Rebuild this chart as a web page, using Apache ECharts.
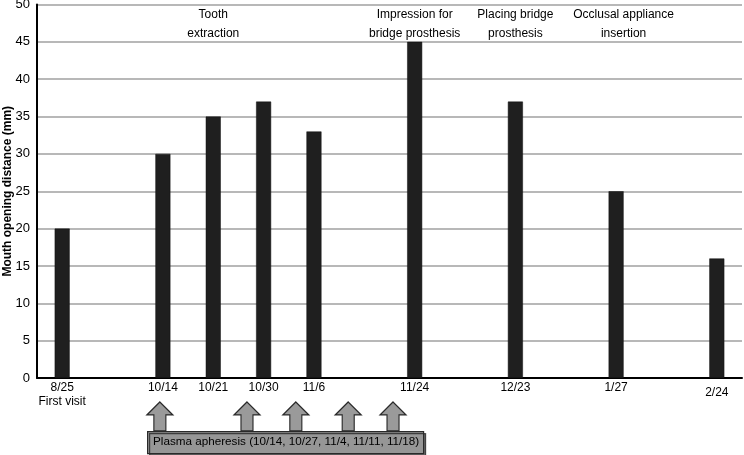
<!DOCTYPE html>
<html>
<head>
<meta charset="utf-8">
<script src="https://cdn.jsdelivr.net/npm/echarts@6/dist/echarts.min.js"></script>
<style>
  html, body { margin: 0; padding: 0; background: #fff; }
  #chart { width: 744px; height: 455px; }
</style>
</head>
<body>
<div id="chart"></div>
<script>
// visit dates (empty slots keep the spacing of the original figure)
const dates = ['8/25\nFirst visit', '', '10/14', '10/21', '10/30', '11/6', '', '11/24', '', '12/23', '', '1/27', '', '2/24']
// mouth opening distance, mm
const opening = [20, null, 30, 35, 37, 33, null, 45, null, 37, null, 25, null, 16]
// treatment notes shown along the top
const events = ['', '', '', 'Tooth\nextraction', '', '', '', 'Impression for\nbridge prosthesis', '', 'Placing bridge\nprosthesis', '', 'Occlusal appliance\ninsertion', '', '']
// plasma apheresis days, as positions between the visit slots
const apheresisDays = ['10/14', '10/27', '11/4', '11/11', '11/18']
const apheresisPos = [1.94, 3.67, 4.64, 5.68, 6.57]

const font = 'Liberation Sans, Arial, sans-serif'
const arrow = 'path://M13 0 L26 13 L19 13 L19 29 L7 29 L7 13 L0 13 Z'

// the last date label and the last note sit a little off centre in the original
const dateItems = dates.map((d, i) => i === dates.length - 1 ? { value: d, textStyle: { padding: [5, 0, 0, 0] } } : d)
const eventItems = events.map((e) => e.startsWith('Occlusal') ? { value: e, textStyle: { padding: [0, 0, 0, 15] } } : e)

const chart = echarts.init(document.getElementById('chart'))
chart.setOption({
  animation: false,
  textStyle: { fontFamily: font },
  grid: { left: 37, right: 2, top: 4.5, bottom: 77, outerBoundsMode: 'none', containLabel: false },
  xAxis: [
    {
      type: 'category',
      data: dateItems,
      axisLine: { onZero: false, lineStyle: { color: '#000', width: 2 } },
      axisTick: { show: false },
      axisLabel: { interval: 0, color: '#000', fontSize: 12, margin: 3, lineHeight: 14 }
    },
    {
      type: 'category',
      data: eventItems,
      position: 'top',
      axisLine: { show: false },
      axisTick: { show: false },
      axisLabel: {
        interval: 0, inside: true, margin: 1, color: '#000', fontSize: 12, lineHeight: 19
      }
    },
    {
      type: 'value',
      min: -0.5,
      max: 13.5,
      show: false
    }
  ],
  yAxis: {
    type: 'value',
    min: 0,
    max: 50,
    interval: 5,
    name: 'Mouth opening distance (mm)',
    nameLocation: 'middle',
    nameRotate: 90,
    nameGap: 23,
    nameMoveOverlap: false,
    nameTextStyle: { color: '#000', fontSize: 12, fontWeight: 'bold' },
    axisLine: { show: true, onZero: false, lineStyle: { color: '#000', width: 2 } },
    axisTick: { show: false },
    axisLabel: { color: '#000', fontSize: 13, margin: 7 },
    splitLine: { lineStyle: { color: '#a0a0a0', width: 1.5 } }
  },
  series: [
    {
      type: 'bar',
      data: opening,
      barWidth: 15,
      itemStyle: { color: '#1f1f1f', borderColor: '#111', borderWidth: 0.5 }
    },
    {
      type: 'scatter',
      xAxisIndex: 2,
      clip: false,
      symbol: arrow,
      symbolSize: [26, 29],
      data: apheresisPos.map((p) => [p, -5.15]),
      itemStyle: { color: '#9a9a9a', borderColor: '#2a2a2a', borderWidth: 1.2, opacity: 1 },
      z: 3
    }
  ],
  graphic: [
    {
      type: 'rect',
      left: 147,
      top: 431,
      z: 100,
      shape: { width: 276, height: 22 },
      style: { fill: '#969696', stroke: '#2a2a2a', lineWidth: 1.2, shadowColor: 'rgba(0,0,0,0.6)', shadowOffsetX: 2, shadowOffsetY: 2 }
    },
    {
      type: 'text',
      left: 153,
      top: 436,
      z: 101,
      style: {
        text: 'Plasma apheresis (' + apheresisDays.join(', ') + ')',
        fill: '#000',
        font: '11.7px ' + font
      }
    }
  ]
})
</script>
</body>
</html>
